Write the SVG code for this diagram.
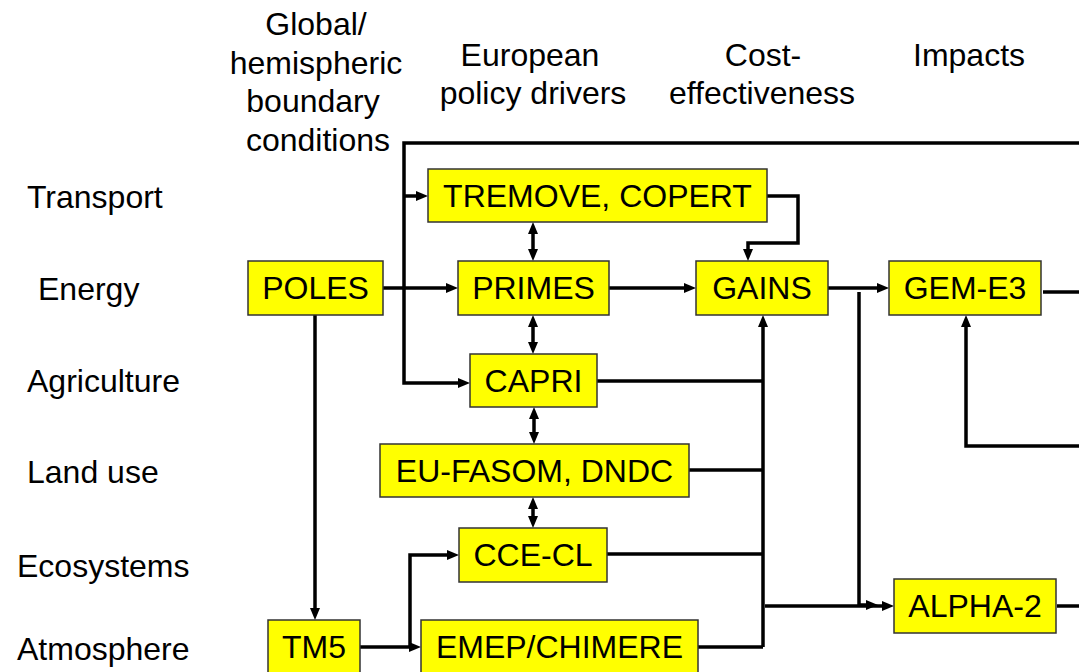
<svg xmlns="http://www.w3.org/2000/svg" width="1079" height="672" viewBox="0 0 1079 672">
<style>
text{font-family:"Liberation Sans",Arial,sans-serif;font-size:32px;fill:#000}
.box rect{fill:#FFFF00;stroke:#333;stroke-width:1.5}
.box text{text-anchor:middle}
.hdr{text-anchor:middle}
#connectors path{fill:none;stroke:#000;stroke-width:3.5}
.a{marker-end:url(#ah)}
.d{marker-start:url(#ah);marker-end:url(#ah)}
</style>
<defs>
<marker id="ah" viewBox="0 0 12 10" refX="7" refY="5" markerWidth="12" markerHeight="10" markerUnits="userSpaceOnUse" orient="auto-start-reverse"><path d="M0,0 L12,5 L0,10 z" fill="#000"/></marker>
</defs>
<rect width="1079" height="672" fill="#fff"/>
<g id="headers">
<text class="hdr" x="316" y="35">Global/</text>
<text class="hdr" x="316" y="74">hemispheric</text>
<text class="hdr" x="313" y="112">boundary</text>
<text class="hdr" x="318" y="151">conditions</text>
<text class="hdr" x="530" y="66">European</text>
<text class="hdr" x="533" y="104">policy drivers</text>
<text class="hdr" x="763" y="66">Cost-</text>
<text class="hdr" x="762" y="104">effectiveness</text>
<text class="hdr" x="969" y="66">Impacts</text>
</g>
<g id="rows">
<text x="27" y="208">Transport</text>
<text x="38" y="300">Energy</text>
<text x="27" y="392">Agriculture</text>
<text x="27" y="483">Land use</text>
<text x="17" y="577">Ecosystems</text>
<text x="17" y="660">Atmosphere</text>
</g>
<g id="connectors">
<path class="a" d="M1079,143 H404 V383 H465"/>
<path class="a" d="M404,196 H423"/>
<path class="a" d="M767,196 H798 V243 H748 V256"/>
<path class="d" d="M533,227 V256"/>
<path class="d" d="M533,320 V349"/>
<path class="d" d="M534,412 V439"/>
<path class="d" d="M533,502 V523"/>
<path class="a" d="M383,288 H453"/>
<path class="a" d="M609,288 H691"/>
<path class="a" d="M828,288 H884"/>
<path class="a" d="M859,292 V605 H873"/>
<path class="a" d="M765,606 H889"/>
<path class="a" d="M763,647 V320"/>
<path d="M597,381 H763"/>
<path d="M689,470 H763"/>
<path d="M607,554 H763"/>
<path d="M698,647 H763"/>
<path d="M1043,292 H1079"/>
<path class="a" d="M1079,446 H966 V320"/>
<path d="M1057,606 H1079"/>
<path class="a" d="M315,315 V615"/>
<path class="a" d="M360,647 H416"/>
<path class="a" d="M410,647 V555 H454"/>
</g>
<g id="tremove" class="box"><rect x="428" y="169" width="339" height="53"/><text x="597.5" y="207">TREMOVE, COPERT</text></g>
<g id="poles" class="box"><rect x="248" y="261" width="135" height="54"/><text x="315.5" y="299">POLES</text></g>
<g id="primes" class="box"><rect x="458" y="261" width="151" height="54"/><text x="533.5" y="299">PRIMES</text></g>
<g id="gains" class="box"><rect x="696" y="261" width="132" height="54"/><text x="762" y="299">GAINS</text></g>
<g id="geme3" class="box"><rect x="889" y="261" width="152" height="54"/><text x="965" y="299">GEM-E3</text></g>
<g id="capri" class="box"><rect x="470" y="354" width="127" height="53"/><text x="533.5" y="392">CAPRI</text></g>
<g id="eufasom" class="box"><rect x="380" y="444" width="309" height="53"/><text x="534.5" y="482">EU-FASOM, DNDC</text></g>
<g id="ccecl" class="box"><rect x="459" y="528" width="148" height="54"/><text x="533" y="566">CCE-CL</text></g>
<g id="emep" class="box"><rect x="421" y="620" width="277" height="54"/><text x="559.5" y="658">EMEP/CHIMERE</text></g>
<g id="tm5" class="box"><rect x="268" y="620" width="92" height="54"/><text x="314" y="658">TM5</text></g>
<g id="alpha2" class="box"><rect x="894" y="579" width="162" height="54"/><text x="975" y="617">ALPHA-2</text></g>
</svg>
